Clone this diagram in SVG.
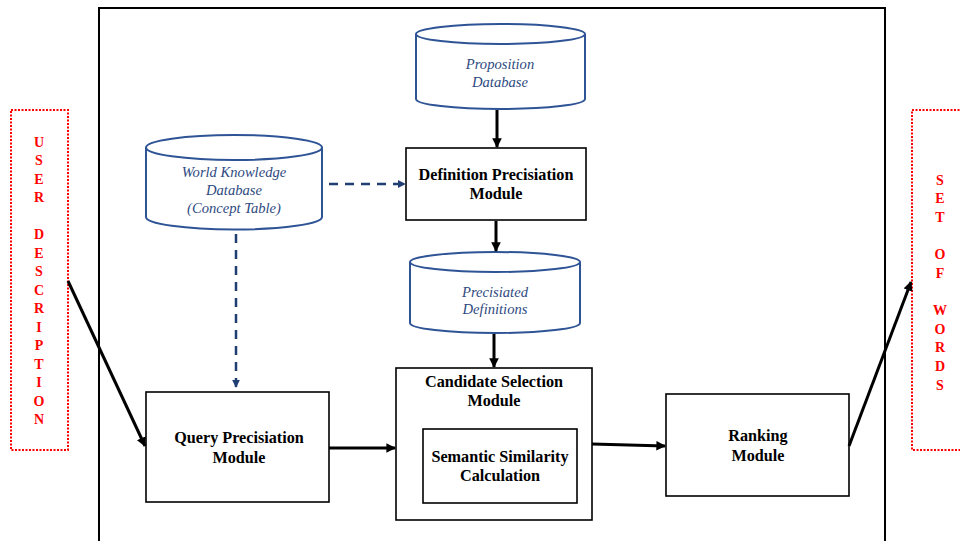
<svg xmlns="http://www.w3.org/2000/svg" width="960" height="541" viewBox="0 0 960 541">
<defs>
<style>
.box{fill:#fff;stroke:#000;stroke-width:1.6}
.cyl{fill:#fff;stroke:#2F5496;stroke-width:2}
.mt{font-family:"Liberation Serif",serif;font-weight:bold;font-size:16.2px;fill:#000;text-anchor:middle}
.ct{font-family:"Liberation Serif",serif;font-style:italic;font-size:14.6px;fill:#2E4A80;text-anchor:middle}
.rt{font-family:"Liberation Serif",serif;font-weight:bold;font-size:14px;fill:#FF0000;text-anchor:middle}
.red{fill:#fff;stroke:#FF0000;stroke-width:2;stroke-dasharray:2 1.5}
.sol{stroke:#000;stroke-width:3;fill:none}
.dsh{stroke:#1F3F73;stroke-width:2.5;fill:none;stroke-dasharray:9 7}
</style>
<marker id="ab" viewBox="0 0 10 10" refX="9" refY="5" markerWidth="3.2" markerHeight="3.2" orient="auto" markerUnits="strokeWidth"><path d="M0,0 L10,5 L0,10 z" fill="#000"/></marker>
<marker id="ad" viewBox="0 0 10 10" refX="9" refY="5" markerWidth="3.2" markerHeight="3.2" orient="auto" markerUnits="strokeWidth"><path d="M0,0 L10,5 L0,10 z" fill="#1F3F73"/></marker>
</defs>
<rect width="960" height="541" fill="#fff"/>
<rect x="99" y="8" width="786" height="545" fill="none" stroke="#000" stroke-width="2"/>

<g id="user-description">
<rect class="red" x="11" y="110" width="57" height="340"/>
<g class="rt">
<text x="39" y="147">U</text><text x="39" y="165">S</text><text x="39" y="184">E</text><text x="39" y="202">R</text>
<text x="39" y="239">D</text><text x="39" y="258">E</text><text x="39" y="276">S</text><text x="39" y="295">C</text><text x="39" y="313">R</text><text x="39" y="332">I</text><text x="39" y="350">P</text><text x="39" y="369">T</text><text x="39" y="387">I</text><text x="39" y="406">O</text><text x="39" y="424">N</text>
</g>
</g>

<g id="set-of-words">
<rect class="red" x="912" y="110" width="52" height="340"/>
<g class="rt">
<text x="940" y="185">S</text><text x="940" y="203">E</text><text x="940" y="222">T</text>
<text x="940" y="259">O</text><text x="940" y="278">F</text>
<text x="940" y="315">W</text><text x="940" y="334">O</text><text x="940" y="352">R</text><text x="940" y="371">D</text><text x="940" y="390">S</text>
</g>
</g>

<g id="world-knowledge-db">
<path class="cyl" d="M146,147.5 L146,217 A88,12.5 0 0 0 322,217 L322,147.5"/>
<ellipse class="cyl" cx="234" cy="147.5" rx="88" ry="12.5"/>
<text class="ct" x="234" y="177">World Knowledge</text>
<text class="ct" x="234" y="195">Database</text>
<text class="ct" x="234" y="213">(Concept Table)</text>
</g>

<g id="proposition-db">
<path class="cyl" d="M416,34 L416,99 A84.5,10 0 0 0 585,99 L585,34"/>
<ellipse class="cyl" cx="500.5" cy="34" rx="84.5" ry="10"/>
<text class="ct" x="500" y="69">Proposition</text>
<text class="ct" x="500" y="87">Database</text>
</g>

<g id="definition-precisiation">
<rect class="box" x="406" y="148" width="180" height="72"/>
<text class="mt" x="496" y="180">Definition Precisiation</text>
<text class="mt" x="496" y="199">Module</text>
</g>

<g id="precisiated-definitions">
<path class="cyl" d="M410,262 L410,323 A85,10 0 0 0 580,323 L580,262"/>
<ellipse class="cyl" cx="495" cy="262" rx="85" ry="10"/>
<text class="ct" x="495" y="297">Precisiated</text>
<text class="ct" x="495" y="314">Definitions</text>
</g>

<g id="candidate-selection">
<rect class="box" x="396" y="368" width="196" height="152"/>
<text class="mt" x="494" y="387">Candidate Selection</text>
<text class="mt" x="494" y="406">Module</text>
</g>

<g id="semantic-similarity">
<rect class="box" x="423" y="429" width="154" height="74"/>
<text class="mt" x="500" y="462">Semantic Similarity</text>
<text class="mt" x="500" y="481">Calculation</text>
</g>

<g id="query-precisiation">
<rect class="box" x="146" y="392" width="183" height="110"/>
<text class="mt" x="239" y="443">Query Precisiation</text>
<text class="mt" x="239" y="463">Module</text>
</g>

<g id="ranking">
<rect class="box" x="666" y="394" width="183" height="102"/>
<text class="mt" x="758" y="441">Ranking</text>
<text class="mt" x="758" y="461">Module</text>
</g>

<g id="connectors">
<line class="sol" x1="68" y1="281" x2="145" y2="446" marker-end="url(#ab)"/>
<line class="sol" x1="849" y1="446" x2="911" y2="282" marker-end="url(#ab)"/>
<line class="sol" x1="497" y1="110" x2="497" y2="147" marker-end="url(#ab)"/>
<line class="sol" x1="496" y1="221" x2="496" y2="251" marker-end="url(#ab)"/>
<line class="sol" x1="494" y1="334" x2="494" y2="367" marker-end="url(#ab)"/>
<line class="sol" x1="329" y1="448" x2="395" y2="448" marker-end="url(#ab)"/>
<line class="sol" x1="592" y1="444" x2="665" y2="446" marker-end="url(#ab)"/>
<line class="dsh" x1="329" y1="184" x2="405" y2="184" marker-end="url(#ad)"/>
<line class="dsh" x1="236" y1="234" x2="236" y2="387" marker-end="url(#ad)"/>
</g>
</svg>
